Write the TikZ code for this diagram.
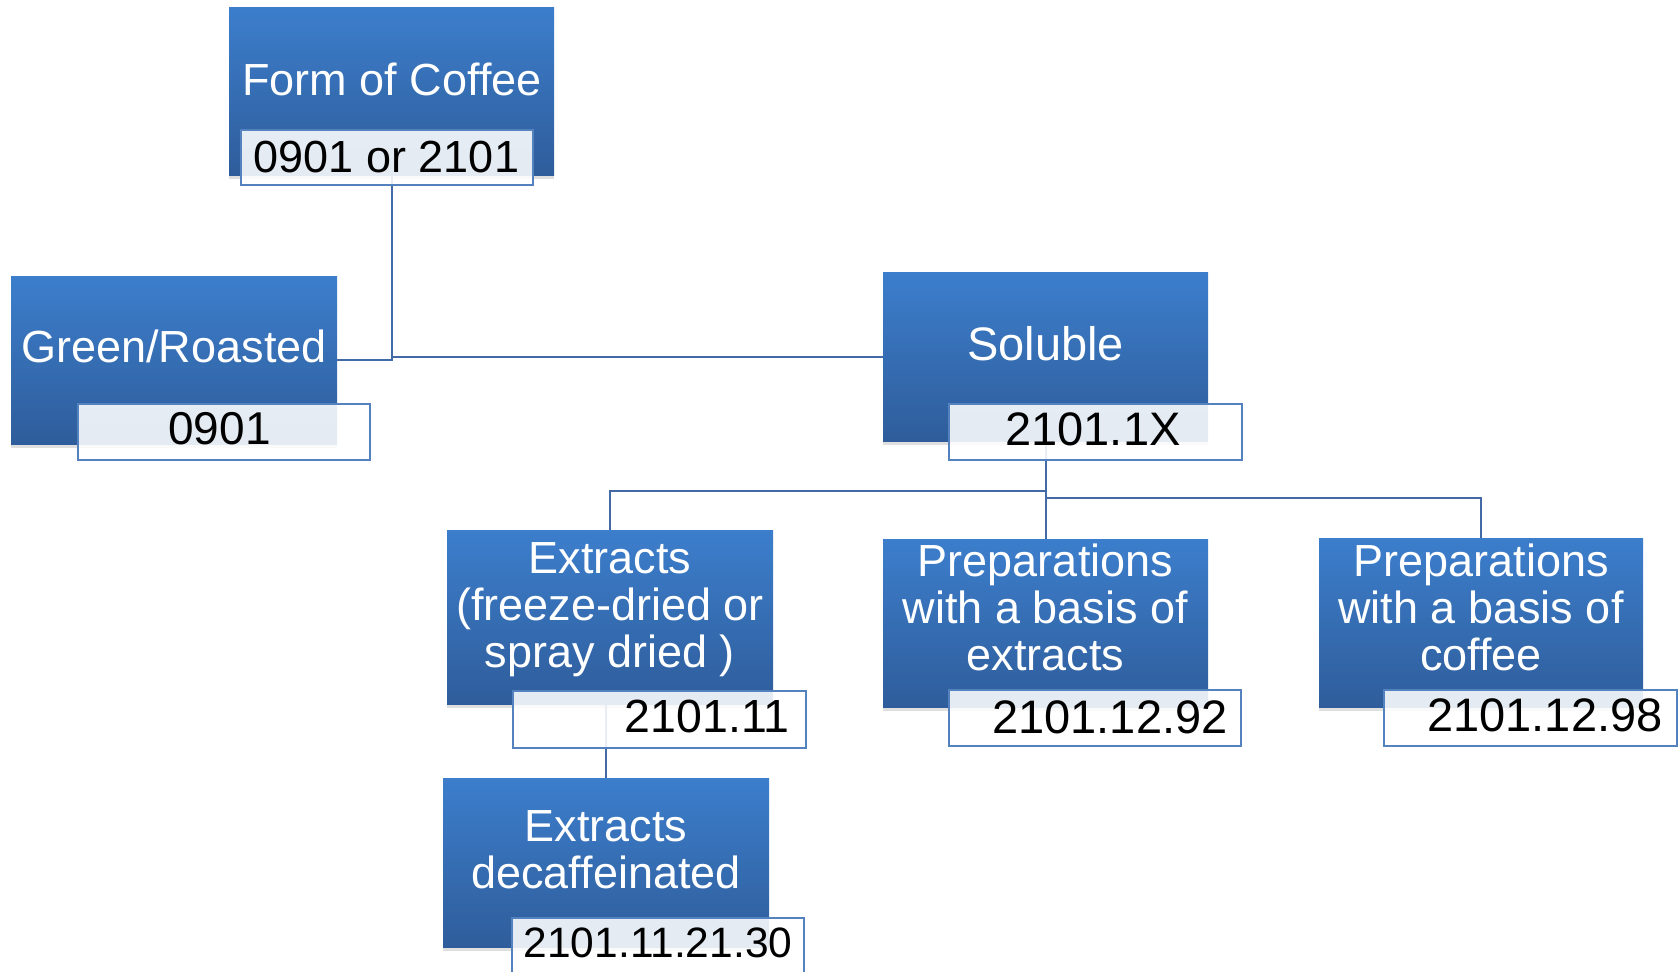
\documentclass[tikz,border=0pt]{standalone}
\usepackage{fontspec}
\setmainfont{Liberation Sans}
\usetikzlibrary{shadows,backgrounds}
\definecolor{boxtop}{RGB}{60,126,204}
\definecolor{boxbot}{RGB}{47,93,155}
\definecolor{tagline}{RGB}{84,130,190}
\definecolor{wirecol}{RGB}{66,106,166}
\tikzset{
  box/.style={rectangle, anchor=north west, inner sep=0pt, draw=none,
    top color=boxtop, bottom color=boxbot,
    drop shadow={shadow xshift=0pt, shadow yshift=-4pt, opacity=0.25}},
  tag/.style={rectangle, anchor=north west, inner sep=0pt, fill=white,
    fill opacity=0.88, draw=tagline, draw opacity=1, line width=1.5pt},
  % anchor=base sits on the baseline of the last line
  boxtext/.style={text=white, align=center, anchor=base, inner sep=0pt,
    font=\fontsize{45}{47}\selectfont},
  tagtext/.style={text=black, anchor=base, inner sep=0pt,
    font=\fontsize{47}{49}\selectfont},
  wire/.style={draw=wirecol, line width=2pt},
}
\begin{document}
\begin{tikzpicture}[x=1pt, y=-1pt]
\useasboundingbox (0,0) rectangle (1679,972);

% boxes
\node[box, minimum width=325pt, minimum height=168pt] (form) at (229,7) {};
\node[box, minimum width=326pt, minimum height=168pt] (green) at (11,276) {};
\node[box, minimum width=325pt, minimum height=169pt] (sol) at (883,272) {};
\node[box, minimum width=326pt, minimum height=174pt] (extr) at (447,530) {};
\node[box, minimum width=325pt, minimum height=168pt] (prepx) at (883,539) {};
\node[box, minimum width=324pt, minimum height=169pt] (prepc) at (1319,538) {};
\node[box, minimum width=326pt, minimum height=169pt] (decaf) at (443,778) {};

% connectors, kept behind the boxes
\begin{scope}[on background layer]
\draw[wire] (form.south) |- (green.east);
\draw[wire] (form.south) |- (sol.west);
\draw[wire] (sol.south) -- ++(0,50) -| (extr.north);
\draw[wire] (sol.south) -- (prepx.north);
\draw[wire] (sol.south) -- ++(0,57) -| (prepc.north);
\draw[wire] (extr.south -| decaf.north) -- (decaf.north);
\end{scope}

% code tags
\node[tag, minimum width=292pt, minimum height=55pt] (formtag) at (240,129) {};
\node[tag, minimum width=292pt, minimum height=56pt] (greentag) at (77,403) {};
\node[tag, minimum width=293pt, minimum height=56pt] (soltag) at (948,403) {};
\node[tag, minimum width=293pt, minimum height=57pt] (extrtag) at (512,690) {};
\node[tag, minimum width=292pt, minimum height=56pt] (prepxtag) at (948,689) {};
\node[tag, minimum width=293pt, minimum height=56pt] (prepctag) at (1383,689) {};
\node[tag, minimum width=292pt, minimum height=70pt] (decaftag) at (511,917) {};

% box texts
\node[boxtext] (tform) at (392,95) {Form of Coffee};
\node[boxtext] (tgreen) at (174,362) {Green/Roasted};
\node[boxtext, font=\fontsize{47}{49}\selectfont] (tsol) at (1045.5,360) {Soluble};
\node[boxtext] (textr) at (610,667) {Extracts\\(freeze-dried or\\spray dried )};
\node[boxtext] (tprepx) at (1045.5,670) {Preparations\\with a basis of\\extracts};
\node[boxtext] (tprepc) at (1481,670) {Preparations\\with a basis of\\coffee};
\node[boxtext] (tdecaf) at (606,888) {Extracts\\decaffeinated};

% tag texts
\node[tagtext, font=\fontsize{45}{47}\selectfont] (cform) at (386.5,172) {0901 or 2101};
\node[tagtext, font=\fontsize{46}{48}\selectfont] (cgreen) at (219.5,444) {0901};
\node[tagtext] (csol) at (1093,445) {2101.1X};
\node[tagtext, font=\fontsize{46.5}{48}\selectfont] (cextr) at (707,732) {2101.11};
\node[tagtext] (cprepx) at (1110,733) {2101.12.92};
\node[tagtext] (cprepc) at (1545,731) {2101.12.98};
\node[tagtext, font=\fontsize{42.5}{44}\selectfont] (cdecaf) at (658,957) {2101.11.21.30};
\end{tikzpicture}
\end{document}
